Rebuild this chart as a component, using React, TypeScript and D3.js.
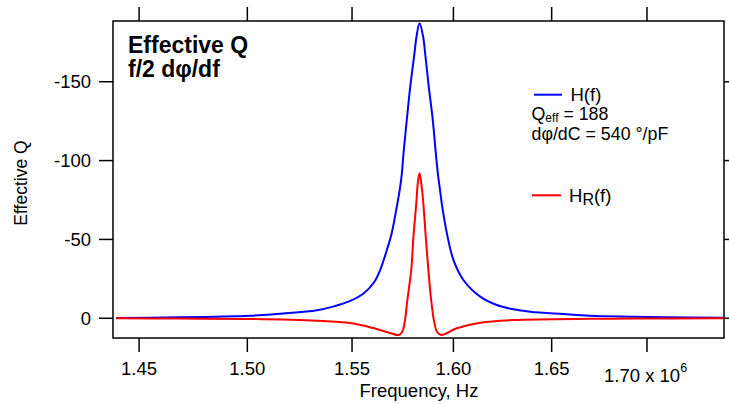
import React from "react";
import * as d3 from "d3";

// Frequency in units of 10^6 Hz
const blueFreq = [1.4396, 1.4674, 1.4849, 1.5013, 1.5169, 1.5331, 1.5408, 1.5491, 1.5556, 1.5608, 1.5637, 1.567, 1.5694, 1.5716, 1.5733, 1.5743, 1.5752, 1.5768, 1.5785, 1.5806, 1.5816, 1.5831, 1.5849, 1.5859, 1.5877, 1.5897, 1.5912, 1.5923, 1.5933, 1.5943, 1.5967, 1.6, 1.605, 1.6135, 1.6219, 1.6303, 1.6389, 1.6559, 1.67, 1.6926, 1.7107, 1.741];
const blueQ = [-0.2, -0.6, -1.0, -1.6, -3.0, -5.1, -7.4, -11.0, -15.7, -23.0, -30.6, -43.3, -54.1, -68.7, -81.3, -90.9, -104.8, -125.7, -146.8, -168.0, -178.5, -187.0, -178.5, -168.0, -146.8, -125.7, -104.8, -90.9, -81.3, -71.8, -54.1, -37.0, -24.3, -13.7, -8.4, -5.7, -4.2, -2.7, -1.6, -1.0, -0.6, -0.4];

const redFreq = [1.4396, 1.4674, 1.5013, 1.5331, 1.5491, 1.5604, 1.5686, 1.5728, 1.5745, 1.5758, 1.5771, 1.579, 1.5801, 1.5815, 1.5823, 1.5831, 1.5839, 1.585, 1.5862, 1.5875, 1.5889, 1.5904, 1.5919, 1.5939, 1.6017, 1.6135, 1.6303, 1.67, 1.6926, 1.741];
const redQ = [0.0, 0.2, 0.4, 1.5, 3.0, 6.2, 9.3, 10.6, 8.7, 2.3, -11.6, -30.6, -51.7, -72.9, -86.4, -91.9, -86.4, -72.9, -51.7, -30.6, -11.6, 2.3, 8.7, 10.6, 6.3, 2.8, 1.1, 0.3, 0.2, 0.0];

const xTicks = [1.45, 1.5, 1.55, 1.6, 1.65, 1.7];
const xTickLabels = ["1.45", "1.50", "1.55", "1.60", "1.65", ""];
const yTicks = [0, -50, -100, -150];
const yTickLabels = ["0", "-50", "-100", "-150"];

const FONT = "'Liberation Sans', Arial, Helvetica, sans-serif";

export default function App() {
  const W = 729, H = 404;
  const left = 113, right = 724, top = 21, bottom = 338;
  const x = d3.scaleLog().domain([1.4382, 1.7415]).range([left, right]);
  const y = d3.scaleLinear().domain([-188.5, 12.5]).range([top, bottom]);

  const mk = (fs: number[], qs: number[]) =>
    d3
      .line<number>()
      .x((d, i) => x(fs[i]))
      .y((d) => y(d))
      .curve(d3.curveCatmullRom.alpha(0.5))(qs) || "";

  const tickLen = 14;
  const fsTick = 18.5;

  return (
    <svg
      width={W}
      height={H}
      style={{ position: "absolute", left: 0, top: 0, background: "#fff" }}
      fontFamily={FONT}
    >
      <rect x={0} y={0} width={W} height={H} fill="#fff" />
      <path d={mk(blueFreq, blueQ)} fill="none" stroke="#0000ff" strokeWidth={2} strokeLinejoin="round" />
      <path d={mk(redFreq, redQ)} fill="none" stroke="#ff0000" strokeWidth={2} strokeLinejoin="round" />

      <rect x={left} y={top} width={right - left} height={bottom - top} fill="none" stroke="#000" strokeWidth={1.5} />

      {xTicks.map((t, i) => (
        <g key={"xt" + i}>
          <line x1={x(t)} x2={x(t)} y1={bottom} y2={bottom + tickLen} stroke="#000" strokeWidth={1.5} />
          <line x1={x(t)} x2={x(t)} y1={top} y2={top - tickLen} stroke="#000" strokeWidth={1.5} />
          {xTickLabels[i] && (
            <text x={x(t)} y={375} textAnchor="middle" fontSize={fsTick} fill="#000">
              {xTickLabels[i]}
            </text>
          )}
        </g>
      ))}
      <text x={604} y={382} fontSize={fsTick} fill="#000">
        1.70 x 10
        <tspan fontSize={12.5} dy={-10}>6</tspan>
      </text>

      {yTicks.map((t, i) => (
        <g key={"yt" + i}>
          <line x1={left} x2={left - tickLen} y1={y(t)} y2={y(t)} stroke="#000" strokeWidth={1.5} />
          <line x1={right} x2={right + tickLen} y1={y(t)} y2={y(t)} stroke="#000" strokeWidth={1.5} />
          <text x={91} y={y(t)} dy="0.36em" textAnchor="end" fontSize={fsTick} fill="#000">
            {yTickLabels[i]}
          </text>
        </g>
      ))}

      <text x={419} y={397} textAnchor="middle" fontSize={18.5} fill="#000">
        Frequency, Hz
      </text>
      <text transform="translate(27,183) rotate(-90)" textAnchor="middle" fontSize={17.5} fill="#000">
        Effective Q
      </text>

      <text fontSize={23} fontWeight="bold" fill="#000">
        <tspan x={128} y={53}>Effective Q</tspan>
        <tspan x={128} y={77}>f/2 dφ/df</tspan>
      </text>

      <line x1={534} x2={562} y1={94.7} y2={94.7} stroke="#0000ff" strokeWidth={2} />
      <text x={570.5} y={101} fontSize={18.5} fill="#000">H(f)</text>
      <text fontSize={17.8} fill="#000">
        <tspan x={531.5} y={120}>Q</tspan>
        <tspan fontSize={12} dy={1.5}>eff</tspan>
        <tspan dy={-1.5}> = 188</tspan>
        <tspan x={531.5} y={140}>dφ/dC = 540 °/pF</tspan>
      </text>
      <line x1={532} x2={561} y1={195.3} y2={195.3} stroke="#ff0000" strokeWidth={2} />
      <text x={569} y={201.5} fontSize={18.5} fill="#000">
        H<tspan fontSize={16} dy={3}>R</tspan>
        <tspan dy={-3}>(f)</tspan>
      </text>
    </svg>
  );
}
